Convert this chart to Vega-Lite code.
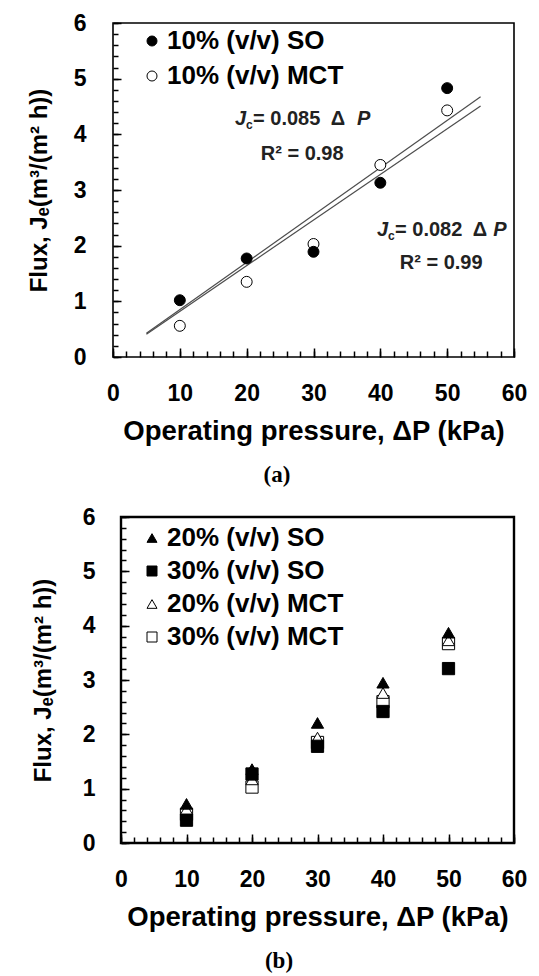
{
  "$schema": "https://vega.github.io/schema/vega-lite/v6.json",
  "background": "white",
  "padding": {"left": 26, "top": 11, "right": 0, "bottom": 0},
  "autosize": {"type": "pad"},
  "columns": 1,
  "spacing": 18,
  "resolve": {"scale": {"fill": "independent", "shape": "independent", "stroke": "independent"}, "legend": {"fill": "independent", "shape": "independent", "stroke": "independent"}},
  "config": {
    "view": {"stroke": "black", "strokeWidth": 1.6},
    "axis": {
      "domain": false, "grid": false, "tickColor": "black", "tickWidth": 1.5,
      "labelFont": "Liberation Sans", "labelFontWeight": "bold", "labelFontSize": 23, "labelColor": "black",
      "titleFont": "Liberation Sans", "titleFontWeight": "bold", "titleFontSize": 27.5, "titleColor": "black",
      "labelFlush": false, "labelOverlap": false
    },
    "legend": {
      "title": null, "orient": "none", "padding": 0, "labelLimit": 400,
      "labelFont": "Liberation Sans", "labelFontWeight": "bold", "labelFontSize": 26, "labelColor": "black",
      "symbolStrokeColor": "black", "symbolStrokeWidth": 1, "symbolSize": 100, "labelOffset": 2
    },
    "title": {"font": "Liberation Serif", "fontWeight": "bold", "fontSize": 23, "color": "black", "orient": "bottom", "anchor": "middle", "frame": "bounds", "offset": 19}
  },
  "datasets": {
    "fitA": [
      {"fit": "SO", "P": 5, "J": 0.425}, {"fit": "SO", "P": 55, "J": 4.675},
      {"fit": "MCT", "P": 5, "J": 0.41}, {"fit": "MCT", "P": 55, "J": 4.51}
    ],
    "ptsA": [
      {"series": "10% (v/v) MCT", "P": 10, "J": 0.56},
      {"series": "10% (v/v) MCT", "P": 20, "J": 1.35},
      {"series": "10% (v/v) MCT", "P": 30, "J": 2.03},
      {"series": "10% (v/v) MCT", "P": 40, "J": 3.45},
      {"series": "10% (v/v) MCT", "P": 50, "J": 4.43},
      {"series": "10% (v/v) SO", "P": 10, "J": 1.02},
      {"series": "10% (v/v) SO", "P": 20, "J": 1.77},
      {"series": "10% (v/v) SO", "P": 30, "J": 1.89},
      {"series": "10% (v/v) SO", "P": 40, "J": 3.13},
      {"series": "10% (v/v) SO", "P": 50, "J": 4.83}
    ],
    "annNorm": [
      {"P": 20.95, "J": 4.28, "text": "= 0.085\u00a0 Δ"},
      {"P": 42.2, "J": 2.28, "text": "= 0.082\u00a0 Δ"}
    ],
    "annItal": [
      {"P": 18.25, "J": 4.28, "text": "J"},
      {"P": 36.5, "J": 4.28, "text": "P"},
      {"P": 39.5, "J": 2.28, "text": "J"},
      {"P": 56.9, "J": 2.28, "text": "P"}
    ],
    "annSub": [
      {"P": 19.9, "J": 4.28, "text": "c"},
      {"P": 41.15, "J": 2.28, "text": "c"}
    ],
    "annR2": [
      {"P": 28.3, "J": 3.65, "text": "R² = 0.98"},
      {"P": 49.1, "J": 1.69, "text": "R² = 0.99"}
    ],
    "ptsB": [
      {"series": "30% (v/v) MCT", "P": 10, "J": 0.53},
      {"series": "30% (v/v) MCT", "P": 20, "J": 1.03},
      {"series": "30% (v/v) MCT", "P": 30, "J": 1.85},
      {"series": "30% (v/v) MCT", "P": 40, "J": 2.6},
      {"series": "30% (v/v) MCT", "P": 50, "J": 3.67},
      {"series": "20% (v/v) MCT", "P": 10, "J": 0.62},
      {"series": "20% (v/v) MCT", "P": 20, "J": 1.17},
      {"series": "20% (v/v) MCT", "P": 30, "J": 1.94},
      {"series": "20% (v/v) MCT", "P": 40, "J": 2.76},
      {"series": "20% (v/v) MCT", "P": 50, "J": 3.73},
      {"series": "30% (v/v) SO", "P": 10, "J": 0.42},
      {"series": "30% (v/v) SO", "P": 20, "J": 1.27},
      {"series": "30% (v/v) SO", "P": 30, "J": 1.78},
      {"series": "30% (v/v) SO", "P": 40, "J": 2.42},
      {"series": "30% (v/v) SO", "P": 50, "J": 3.21},
      {"series": "20% (v/v) SO", "P": 10, "J": 0.72},
      {"series": "20% (v/v) SO", "P": 20, "J": 1.36},
      {"series": "20% (v/v) SO", "P": 30, "J": 2.21},
      {"series": "20% (v/v) SO", "P": 40, "J": 2.95},
      {"series": "20% (v/v) SO", "P": 50, "J": 3.87}
    ]
  },
  "concat": [
    {
      "width": 401, "height": 334,
      "title": {"text": "(a)"},
      "resolve": {"axis": {"x": "independent", "y": "independent"}},
      "layer": [
        {"data": {"name": "ptsA"}, "mark": {"type": "point", "opacity": 0},
          "encoding": {
            "x": {"field": "P", "type": "quantitative", "scale": {"domain": [0, 60], "nice": false, "zero": false},
              "axis": {"orient": "bottom", "title": null, "labels": false, "tickSize": -6,
                "values": [0,2,4,6,8,10,12,14,16,18,20,22,24,26,28,30,32,34,36,38,40,42,44,46,48,50,52,54,56,58,60]}},
            "y": {"field": "J", "type": "quantitative", "scale": {"domain": [0, 6], "nice": false},
              "axis": {"orient": "left", "title": null, "labels": false, "tickSize": -5,
                "values": [0,0.2,0.4,0.6,0.8,1,1.2,1.4,1.6,1.8,2,2.2,2.4,2.6,2.8,3,3.2,3.4,3.6,3.8,4,4.2,4.4,4.6,4.8,5,5.2,5.4,5.6,5.8,6]}}
          }},
        {
          "encoding": {
            "x": {"field": "P", "type": "quantitative", "scale": {"domain": [0, 60], "nice": false, "zero": false},
              "axis": {"orient": "bottom", "title": "Operating pressure, ΔP (kPa)", "format": "d", "tickSize": -9,
                "values": [0, 10, 20, 30, 40, 50, 60], "labelPadding": 34, "titlePadding": 12}},
            "y": {"field": "J", "type": "quantitative", "scale": {"domain": [0, 6], "nice": false},
              "axis": {"orient": "left", "title": "Flux, Jₑ(m³/(m² h))", "titleFontSize": 24, "format": "d", "tickSize": -8,
                "values": [0, 1, 2, 3, 4, 5, 6], "labelPadding": 35, "titlePadding": 22}}
          },
          "layer": [
            {"data": {"name": "fitA"}, "mark": {"type": "line", "color": "#4d4d4d", "strokeWidth": 1.2},
              "encoding": {"detail": {"field": "fit", "type": "nominal"}}},
            {"data": {"name": "ptsA"}, "mark": {"type": "point", "filled": true, "shape": "circle", "strokeWidth": 1, "size": 120, "opacity": 1},
              "encoding": {
                "fill": {"field": "series", "type": "nominal",
                  "scale": {"domain": ["10% (v/v) SO", "10% (v/v) MCT"], "range": ["black", "white"]},
                  "legend": {"legendX": 26, "legendY": 5, "rowPadding": 9, "symbolType": "circle"}},
                "stroke": {"field": "series", "type": "nominal",
                  "scale": {"domain": ["10% (v/v) SO", "10% (v/v) MCT"], "range": ["black", "black"]},
                  "legend": {"legendX": 26, "legendY": 5, "rowPadding": 9, "symbolType": "circle"}}
              }},
            {"data": {"name": "annNorm"}, "mark": {"type": "text", "align": "left", "baseline": "middle", "font": "Liberation Sans", "fontWeight": "bold", "fontSize": 20, "color": "#222222"},
              "encoding": {"text": {"field": "text"}}},
            {"data": {"name": "annItal"}, "mark": {"type": "text", "align": "left", "baseline": "middle", "font": "Liberation Sans", "fontWeight": "bold", "fontStyle": "italic", "fontSize": 20, "color": "#222222"},
              "encoding": {"text": {"field": "text"}}},
            {"data": {"name": "annSub"}, "mark": {"type": "text", "align": "left", "baseline": "middle", "dy": 6, "font": "Liberation Sans", "fontWeight": "bold", "fontSize": 12, "color": "#222222"},
              "encoding": {"text": {"field": "text"}}},
            {"data": {"name": "annR2"}, "mark": {"type": "text", "align": "center", "baseline": "middle", "font": "Liberation Sans", "fontWeight": "bold", "fontSize": 20, "color": "#222222"},
              "encoding": {"text": {"field": "text"}}}
          ]
        }
      ]
    },
    {
      "width": 401, "height": 326,
      "view": {"stroke": null},
      "title": {"text": "(b)"},
      "resolve": {"axis": {"x": "independent", "y": "independent"}},
      "layer": [
        {"data": {"name": "ptsB"}, "mark": {"type": "point", "opacity": 0},
          "encoding": {
            "x": {"field": "P", "type": "quantitative", "scale": {"domain": [0, 60], "nice": false, "zero": false, "range": [8, 401]},
              "axis": {"orient": "bottom", "title": null, "labels": false, "tickSize": -6,
                "values": [0,2,4,6,8,10,12,14,16,18,20,22,24,26,28,30,32,34,36,38,40,42,44,46,48,50,52,54,56,58,60]}},
            "y": {"field": "J", "type": "quantitative", "scale": {"domain": [0, 6], "nice": false},
              "axis": {"orient": "left", "title": null, "labels": false, "tickSize": -5, "offset": -8,
                "values": [0,0.2,0.4,0.6,0.8,1,1.2,1.4,1.6,1.8,2,2.2,2.4,2.6,2.8,3,3.2,3.4,3.6,3.8,4,4.2,4.4,4.6,4.8,5,5.2,5.4,5.6,5.8,6]}}
          }},
        {"data": {"values": [{"frame": 1}]}, "mark": {"type": "rect", "fill": "white", "fillOpacity": 0, "stroke": "black", "strokeWidth": 2.4, "opacity": 1, "strokeOpacity": 1},
          "encoding": {
            "x": {"datum": 0, "type": "quantitative", "axis": null},
            "x2": {"datum": 60},
            "y": {"datum": 0, "type": "quantitative", "axis": null},
            "y2": {"datum": 6}}},
        {
          "encoding": {
            "x": {"field": "P", "type": "quantitative", "scale": {"domain": [0, 60], "nice": false, "zero": false, "range": [8, 401]},
              "axis": {"orient": "bottom", "title": "Operating pressure, ΔP (kPa)", "format": "d", "tickSize": -9,
                "values": [0, 10, 20, 30, 40, 50, 60], "labelPadding": 34, "titlePadding": 12}},
            "y": {"field": "J", "type": "quantitative", "scale": {"domain": [0, 6], "nice": false},
              "axis": {"orient": "left", "title": "Flux, Jₑ(m³/(m² h))", "titleFontSize": 24, "format": "d", "tickSize": -8, "offset": -8,
                "values": [0, 1, 2, 3, 4, 5, 6], "labelPadding": 34, "titlePadding": 27}}
          },
          "layer": [
            {"data": {"name": "ptsB"}, "mark": {"type": "point", "filled": true, "strokeWidth": 1, "size": 150, "opacity": 1},
              "encoding": {
                "fill": {"field": "series", "type": "nominal",
                  "scale": {"domain": ["20% (v/v) SO", "30% (v/v) SO", "20% (v/v) MCT", "30% (v/v) MCT"], "range": ["black", "black", "white", "white"]},
                  "legend": {"legendX": 26, "legendY": 8, "rowPadding": 7}},
                "shape": {"field": "series", "type": "nominal",
                  "scale": {"domain": ["20% (v/v) SO", "30% (v/v) SO", "20% (v/v) MCT", "30% (v/v) MCT"], "range": ["triangle-up", "square", "triangle-up", "square"]},
                  "legend": {"legendX": 26, "legendY": 8, "rowPadding": 7}},
                "stroke": {"field": "series", "type": "nominal",
                  "scale": {"domain": ["20% (v/v) SO", "30% (v/v) SO", "20% (v/v) MCT", "30% (v/v) MCT"], "range": ["black", "black", "black", "black"]},
                  "legend": {"legendX": 26, "legendY": 8, "rowPadding": 7}}
              }}
          ]
        }
      ]
    }
  ]
}
